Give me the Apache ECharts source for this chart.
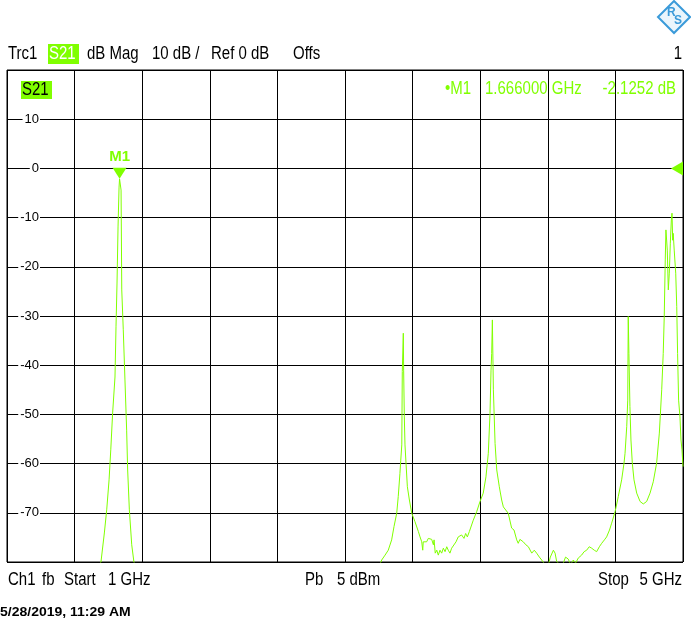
<!DOCTYPE html>
<html><head><meta charset="utf-8">
<script src="https://cdn.jsdelivr.net/npm/echarts@6.0.0/dist/echarts.min.js"></script>
<style>html,body{margin:0;padding:0;background:#fff}#c{width:691px;height:622px}</style>
</head><body><div id="c"></div>
<script>
// ---- data ----
const freqGHz = [1.0,1.3,1.5,1.556,1.576,1.590,1.604,1.614,1.625,1.639,1.645,1.651,1.657,1.663,1.666,1.675,1.679,1.688,1.698,1.708,1.714,1.724,1.738,1.751,1.8,2.2,2.8,3.1,3.2,
3.217,3.237,3.256,3.276,3.290,3.306,3.315,3.325,3.330,3.336,3.339,3.345,3.347,3.351,3.355,3.361,3.369,3.381,3.395,3.414,3.434,3.444,3.454,3.460,3.463,3.473,3.483,3.493,3.503,3.513,3.523,3.527,3.534,3.543,3.552,3.562,3.572,3.582,3.592,3.602,3.611,3.621,3.631,3.641,3.657,3.670,3.680,3.690,3.704,3.714,3.724,3.736,3.759,3.779,3.799,3.818,3.834,3.848,3.858,3.864,3.868,3.872,3.878,3.888,3.898,3.913,3.927,
3.937,3.966,3.986,4.000,4.016,4.025,4.035,4.055,4.070,4.085,4.105,4.120,4.134,4.150,4.164,4.183,4.200,4.215,4.223,4.233,4.243,4.252,4.262,4.280,4.292,4.305,4.321,4.335,4.351,4.365,4.380,4.400,4.415,4.430,4.445,4.460,4.475,4.489,4.505,4.519,4.535,4.548,4.565,4.578,4.598,4.617,4.637,4.651,4.657,4.667,4.673,4.676,4.680,4.686,4.692,4.700,4.710,4.726,4.746,4.765,4.785,4.805,4.824,4.844,4.860,4.874,4.883,4.889,4.895,4.899,4.907,4.913,4.919,4.925,4.931,4.935,4.939,4.942,4.948,4.957,4.963,4.968,4.974,4.982,4.988,4.994,5.0];
const s21dB = [-92,-88,-83,-80,-74.1,-69.4,-63.3,-57.2,-49.7,-42.4,-32.2,-23.3,-11.9,-3.8,-2.1252,-4.4,-24.7,-32.8,-43.0,-53.2,-61.3,-69.4,-76.5,-80,-84,-90,-88,-84,-81,
-79.6,-78.6,-77.6,-75.5,-72.8,-70.1,-66.7,-62.0,-59.3,-56.2,-41.3,-33.5,-41.0,-50.5,-56.2,-59.9,-64.7,-67.4,-70.1,-71.8,-73.8,-74.9,-75.9,-77.6,-75.9,-75.5,-75.9,-75.2,-75.2,-75.4,-76.5,-75.5,-78.2,-77.6,-78.6,-77.6,-78.2,-77.2,-77.9,-76.9,-77.6,-78.2,-77.2,-76.9,-75.9,-74.9,-75.2,-74.5,-75.2,-74.2,-74.9,-73.8,-71.5,-69.8,-67.7,-66.0,-62.7,-57.9,-49.8,-41.0,-37.6,-30.8,-45.0,-55.9,-61.3,-64.7,-67.4,
-68.8,-70.1,-73.1,-73.5,-75.5,-76.2,-75.4,-75.9,-76.5,-76.9,-78.2,-77.6,-78.2,-79.0,-79.6,-80.5,-81,-79.0,-78.6,-77.6,-78.2,-79.8,-79.6,-81,-80.2,-79.0,-79.4,-80.5,-79.6,-80.2,-79.2,-78.6,-77.9,-77.6,-76.9,-77.2,-77.6,-77.9,-76.9,-76.2,-75.5,-74.9,-73.5,-72.1,-69.8,-66.7,-63.3,-59.9,-57.9,-52.5,-47.1,-30.1,-37.6,-48.4,-55.2,-59.9,-63.3,-66.0,-67.7,-68.2,-67.7,-66.0,-63.7,-59.9,-53.8,-45.0,-37.6,-30.1,-18.6,-12.5,-16.6,-24.7,-21.3,-15.2,-10.5,-9.1,-14.6,-13.2,-16.6,-21.3,-28.1,-37.6,-47.1,-50.5,-55.2,-57.2,-60.6];
const yTickValues = [10,0,-10,-20,-30,-40,-50,-60,-70];
const yTickLabels = ['10','0','-10','-20','-30','-40','-50','-60','-70'];
const markerName = 'M1';
const markerFreq = 1.666;
const markerDb = -2.1252;
const refLevelDb = 0;
const headerTexts = ['Trc1','S21','dB Mag','10 dB /','Ref 0 dB','Offs','1'];
const markerReadout = ['\u2022M1','1.666000 GHz','-2.1252 dB'];
const footerTexts = ['Ch1','fb','Start','1 GHz','Pb','5 dBm','Stop','5 GHz'];
const dateText = '5/28/2019, 11:29 AM';

// ---- chart ----
const GREEN = '#80ff00';
const FONT = '"Liberation Sans", Arial, sans-serif';
const chart = echarts.init(document.getElementById('c'), null, {renderer:'canvas'});
function txt(x, y, s, opt, sy) {
  return {type:'text', x:x, y:y, z:10, scaleY: (sy === undefined ? 1.22 : sy),
    style:Object.assign({text:s, fill:'#000', font:'15px ' + FONT, verticalAlign:'middle', align:'left'}, opt||{})};
}
const graphics = [
  txt(8, 54, headerTexts[0]),
  {type:'rect', shape:{x:48, y:44, width:31, height:20}, style:{fill:GREEN}, z:9},
  txt(49, 54, headerTexts[1], {fill:'#fff'}),
  txt(87, 54, headerTexts[2]),
  txt(152, 54, headerTexts[3]),
  txt(211, 54, headerTexts[4]),
  txt(293, 54, headerTexts[5]),
  txt(682, 54, headerTexts[6], {align:'right'}),
  {type:'rect', shape:{x:21, y:81, width:31, height:18}, style:{fill:GREEN}, z:9},
  txt(22, 89.5, 'S21'),
  txt(445, 89, markerReadout[0], {fill:GREEN}),
  txt(485, 89, markerReadout[1], {fill:GREEN}),
  txt(676, 89, markerReadout[2], {fill:GREEN, align:'right'}),
  txt(8, 580, footerTexts[0]),
  txt(42, 580, footerTexts[1]),
  txt(64, 580, footerTexts[2]),
  txt(108, 580, footerTexts[3]),
  txt(305, 580, footerTexts[4]),
  txt(337, 580, footerTexts[5]),
  txt(598, 580, footerTexts[6]),
  txt(682, 580, footerTexts[7], {align:'right'}),
  txt(0, 612, dateText, {font:'bold 14px ' + FONT}, 0.95),
  // R&S logo
  {type:'polygon', shape:{points:[[674,1],[690,17],[674,33],[658,17]]}, style:{fill:'#eaf5fc', stroke:'#3a9ad9', lineWidth:2}, z:10},
  txt(667, 13, 'R', {fill:'#3a9ad9', font:'bold 12px ' + FONT}, 1),
  txt(674, 21, 'S', {fill:'#3a9ad9', font:'bold 12px ' + FONT}, 1)
];

const yBase = {type:'value', min:-80, max:20, interval:10, position:'left'};
const option = {
  animation: false,
  backgroundColor: '#fff',
  grid: {left:7, top:70, width:676, height:492, show:true, borderColor:'#000', borderWidth:1, backgroundColor:'transparent'},
  xAxis: [
    {type:'value', min:1, max:5, show:false, position:'bottom'},
    {type:'value', min:0, max:10, interval:1, position:'bottom',
     axisLine:{show:false}, axisTick:{show:false}, axisLabel:{show:false},
     splitLine:{show:true, lineStyle:{color:'#000', width:1}}}
  ],
  yAxis: [
    Object.assign({}, yBase, {
      z:0, axisLine:{show:false}, axisTick:{show:false}, axisLabel:{show:false},
      splitLine:{show:true, lineStyle:{color:'#000', width:1}}
    }),
    Object.assign({}, yBase, {
      z:4, axisLine:{show:false}, axisTick:{show:false}, splitLine:{show:false},
      axisLabel:{
        show:true, showMinLabel:false, showMaxLabel:false,
        margin:-33, align:'right', color:'#000', fontSize:13, fontFamily:FONT,
        backgroundColor:'#fff', padding:[1,1,1,2],
        formatter: function (v) { const i = yTickValues.indexOf(v); return i >= 0 ? yTickLabels[i] : ''; }
      }
    })
  ],
  series: [{
    type:'line', xAxisIndex:0, yAxisIndex:0,
    data: freqGHz.map(function (f, i) { return [f, s21dB[i]]; }),
    symbol:'none', clip:true, z:5,
    lineStyle:{color:GREEN, width:1},
    markPoint: {
      animation:false,
      data: [
        {coord:[markerFreq, markerDb], symbol:'path://M0,0 L14,0 L7,11 Z', symbolSize:[14,11], symbolOffset:[0,'-50%'],
         itemStyle:{color:GREEN},
         label:{show:true, position:'top', distance:3, formatter:markerName, color:GREEN, fontWeight:'bold', fontSize:15, fontFamily:FONT}},
        {coord:[5, refLevelDb], symbol:'path://M12,0 L12,14 L0,7 Z', symbolSize:[12,14], symbolOffset:['-50%',0],
         itemStyle:{color:GREEN}, label:{show:false}}
      ]
    }
  }],
  graphic: graphics
};
chart.setOption(option);
</script>
</body></html>
